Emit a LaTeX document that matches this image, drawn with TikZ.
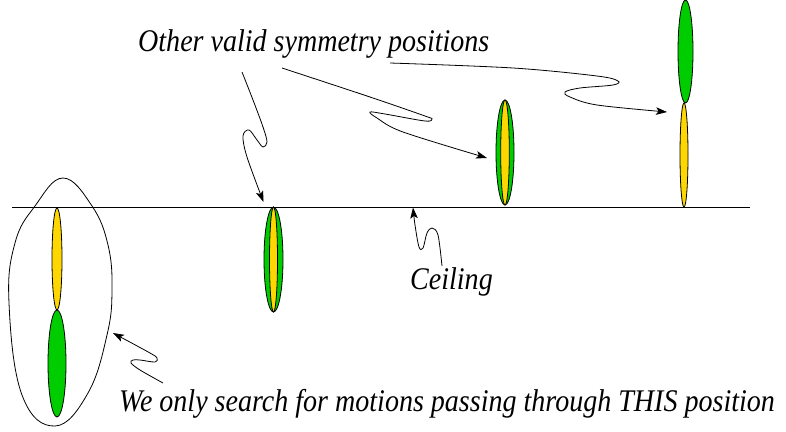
\documentclass[tikz,border=0pt]{standalone}
\usepackage{fontspec}
\setmainfont{Liberation Serif}
\newfontfamily\figfont[FakeStretch=0.89]{Liberation Serif}
\usepackage{tikz}
\usetikzlibrary{arrows.meta,shapes.geometric}
\definecolor{figgreen}{RGB}{0,205,0}
\definecolor{figgold}{RGB}{255,215,0}

\begin{document}
\begin{tikzpicture}[x=1pt, y=-1pt,
  lbl/.style={font=\figfont\itshape\fontsize{31.5}{33}\selectfont, inner sep=0pt, anchor=base west},
  grn/.style={ellipse, draw, fill=figgreen, inner sep=0pt, line width=0.8pt},
  yel/.style={ellipse, draw, fill=figgold, inner sep=0pt, line width=0.8pt},
  arr/.style={-{Stealth[length=11pt, width=7.5pt, inset=2.5pt]}, line width=0.8pt},
  wig/.style={arr, smooth, tension=0.55}]
\useasboundingbox (0,0) rectangle (786,431);
\draw[line width=0.8pt] (12,207) -- (750,207);
\node[yel, minimum width=10, minimum height=102] (yel1) at (57,259) {};
\node[grn, minimum width=18, minimum height=107] (grn1) at (57,363.5) {};
\draw[line width=0.8pt] plot[smooth cycle, tension=0.7] coordinates
  {(63,178) (92,206) (108,245) (112,290) (107,335) (88,393) (55,426) (22,395) (9,303) (15,243) (35,206)};
\node[grn, minimum width=19, minimum height=105] (grn2) at (273.5,259.5) {};
\node[yel, minimum width=8, minimum height=105] (yel2) at (273.5,259.5) {};
\node[grn, minimum width=18, minimum height=105] (grn3) at (505,152.5) {};
\node[yel, minimum width=8.6, minimum height=105] (yel3) at (505,152.5) {};
\node[grn, minimum width=15, minimum height=103] (grn4) at (685.5,51.5) {};
\node[yel, minimum width=8, minimum height=104] (yel4) at (684,155) {};
\node[lbl] (other) at (138,51) {Other valid symmetry positions};
\node[lbl] (ceil) at (410,289) {Ceiling};
\node[lbl] (only) at (119,411) {We only search for motions passing through THIS position};
\coordinate (o1) at (242,72);
\coordinate (o2) at (282,68);
\coordinate (o3) at (390,63);
\coordinate (c1) at (442,266);
\coordinate (w1) at (163,383);
\coordinate (t1) at (263.5,202);
\coordinate (t2) at (487,158);
\coordinate (t3) at (667,112);
\coordinate (t4) at (413,207.5);
\coordinate (t5) at (113,333);
\draw[wig] plot coordinates {(o1) (253,100) (263,127) (267,142) (263,147) (257,140) (249,130) (243,136) (247,157) (t1)};
\draw[wig] plot coordinates {(o2) (370,97) (425,116) (432,119) (425,121) (385,114) (370,112) (377,118) (403,132) (t2)};
\draw[wig] plot coordinates {(o3) (513,68) (597,76) (618,81) (613,85) (580,88) (565,92) (570,97) (597,105) (t3)};
\draw[wig] plot coordinates {(c1) (438,235) (432,228) (427,233) (423,248) (419,247) (415,225) (t4)};
\draw[wig] plot coordinates {(w1) (140,370) (131,363) (133,360) (140,360) (155,362) (157,358) (150,353) (t5)};
\end{tikzpicture}
\end{document}
